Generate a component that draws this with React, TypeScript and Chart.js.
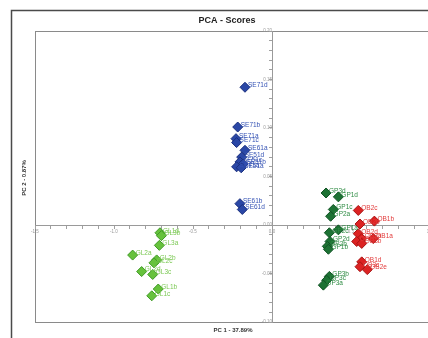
import React, { useEffect, useRef } from "react";
import { Chart, registerables } from "chart.js";

Chart.register(...registerables);

const chartTitle = "PCA - Scores";
const xAxisTitle = "PC 1 - 37.89%";
const yAxisTitle = "PC 2 - 0.87%";

// Series: SE (blue)
const seLabels = ["SE71d", "SE71b", "SE71a", "SE71c", "SE61a", "SE51d", "SE51c", "SE51b", "SE41a", "SE51a", "SE61b", "SE61d"];
const seX = [-0.171, -0.217, -0.228, -0.224, -0.171, -0.192, -0.203, -0.182, -0.224, -0.195, -0.203, -0.188];
const seY = [0.142, 0.101, 0.089, 0.085, 0.077, 0.070, 0.065, 0.063, 0.060, 0.059, 0.022, 0.016];

// Series: GP (dark green)
const gpLabels = ["GP3d", "GP1d", "GP1c", "GP2a", "GP1a", "GP2c", "GP2d", "GP2b", "GP1b", "GP3b", "GP3c", "GP3a"];
const gpX = [0.342, 0.42, 0.388, 0.371, 0.42, 0.363, 0.367, 0.35, 0.357, 0.363, 0.346, 0.325];
const gpY = [0.033, 0.029, 0.016, 0.009, -0.005, -0.008, -0.017, -0.022, -0.025, -0.053, -0.057, -0.062];

// Series: OB (red)
const obLabels = ["OB2c", "OB1b", "OB2b", "OB2d", "OB2a", "OB1a", "OB1c", "OB3b", "OB1d", "OB3c", "OB2e"];
const obX = [0.546, 0.648, 0.557, 0.546, 0.568, 0.641, 0.536, 0.568, 0.568, 0.557, 0.603];
const obY = [0.015, 0.004, 0.001, -0.009, -0.014, -0.014, -0.017, -0.019, -0.038, -0.043, -0.046];

// Series: GL (light green)
const glLabels = ["GL1d", "GL3b", "GL3a", "GL2a", "GL2b", "GL2c", "GL2d", "GL3c", "GL1b", "GL1c"];
const glX = [-0.709, -0.700, -0.713, -0.882, -0.730, -0.747, -0.825, -0.755, -0.72, -0.761];
const glY = [-0.008, -0.011, -0.021, -0.031, -0.036, -0.039, -0.048, -0.051, -0.066, -0.073];

const xMin = -1.5;
const xMax = 1.0;
const yMin = -0.1;
const yMax = 0.2;

const FONT = "'Liberation Sans', Arial, sans-serif";

function toPoints(xs: number[], ys: number[]) {
  return xs.map((x, i) => ({ x, y: ys[i] }));
}

const framePlugin = {
  id: "framePlugin",
  beforeDraw(chart: any) {
    const { ctx, chartArea, width, height } = chart;
    ctx.save();
    ctx.fillStyle = "#ffffff";
    ctx.fillRect(0, 0, width, height);
    // outer frame
    ctx.strokeStyle = "#4a4a4a";
    ctx.lineWidth = 1.5;
    ctx.beginPath();
    ctx.moveTo(11.5, height);
    ctx.lineTo(11.5, 10.5);
    ctx.lineTo(width, 10.5);
    ctx.stroke();
    // plot border
    ctx.strokeStyle = "#8a8a8a";
    ctx.lineWidth = 1;
    ctx.strokeRect(
      Math.round(chartArea.left) + 0.5,
      Math.round(chartArea.top) + 0.5,
      chartArea.right - chartArea.left,
      chartArea.bottom - chartArea.top
    );
    ctx.restore();
  },
  afterDatasetsDraw(chart: any) {
    const { ctx } = chart;
    ctx.save();
    ctx.font = `6.5px ${FONT}`;
    ctx.textBaseline = "middle";
    ctx.textAlign = "left";
    chart.data.datasets.forEach((ds: any, i: number) => {
      const meta = chart.getDatasetMeta(i);
      ctx.fillStyle = ds.labelColor;
      meta.data.forEach((el: any, j: number) => {
        ctx.fillText(ds.pointLabels[j], el.x + 3, el.y - 2);
      });
    });
    ctx.restore();
  },
  afterDraw(chart: any) {
    const { ctx } = chart;
    ctx.save();
    ctx.fillStyle = "#222";
    ctx.textAlign = "center";
    ctx.textBaseline = "middle";
    ctx.font = `bold 9px ${FONT}`;
    ctx.fillText(chartTitle, 227, 21);
    ctx.font = `bold 6px ${FONT}`;
    ctx.fillStyle = "#333";
    ctx.fillText(xAxisTitle, 233, 330);
    ctx.translate(24, 178);
    ctx.rotate(-Math.PI / 2);
    ctx.fillText(yAxisTitle, 0, 0);
    ctx.restore();
  },
};

export default function App() {
  const ref = useRef<HTMLCanvasElement | null>(null);

  useEffect(() => {
    if (!ref.current) return;
    const mk = (label: string, labels: string[], xs: number[], ys: number[], fill: string, border: string, labelColor: string) => ({
      label,
      data: toPoints(xs, ys),
      pointLabels: labels,
      labelColor,
      pointStyle: "rectRot",
      pointRadius: 5,
      pointBackgroundColor: fill,
      pointBorderColor: border,
      pointBorderWidth: 1,
      backgroundColor: fill,
      borderColor: border,
      showLine: false,
    });
    const chart = new Chart(ref.current, {
      type: "scatter",
      data: {
        datasets: [
          mk("SE", seLabels, seX, seY, "#2a47a6", "#1a2f7e", "#3452b4"),
          mk("GL", glLabels, glX, glY, "#66c23c", "#3f9a26", "#7cc955"),
          mk("GP", gpLabels, gpX, gpY, "#1d7234", "#0f5223", "#2f8c44"),
          mk("OB", obLabels, obX, obY, "#dc2222", "#a81414", "#e23a3a"),
        ] as any,
      },
      options: {
        animation: false,
        responsive: false,
        devicePixelRatio: 1,
        layout: { padding: { left: 35, top: 31, right: 10, bottom: 16 } },
        plugins: {
          legend: { display: false },
          tooltip: { enabled: false },
          title: { display: false },
        },
        scales: {
          x: {
            type: "linear",
            min: xMin,
            max: xMax,
            position: { y: 0 } as any,
            afterFit: (s: any) => {
              s.height = 0;
            },
            ticks: {
              stepSize: 0.1,
              autoSkip: false,
              maxRotation: 0,
              padding: 1,
              color: "#999999",
              font: { size: 4.5, family: FONT },
              callback: (v: any) => {
                const n = Number(v);
                return Math.abs(n * 2 - Math.round(n * 2)) < 1e-6 ? n.toFixed(1) : "";
              },
            },
            grid: { drawOnChartArea: false, drawTicks: true, tickLength: 3, color: "#a0a0a0" },
            border: { display: true, color: "#9a9a9a", width: 1 },
          },
          y: {
            type: "linear",
            min: yMin,
            max: yMax,
            position: { x: 0 } as any,
            afterFit: (s: any) => {
              s.width = 0;
            },
            ticks: {
              stepSize: 0.01,
              autoSkip: false,
              padding: 1,
              color: "#999999",
              font: { size: 4.5, family: FONT },
              callback: (v: any) => {
                const n = Number(v);
                return Math.abs(n * 20 - Math.round(n * 20)) < 1e-6 ? n.toFixed(2) : "";
              },
            },
            grid: { drawOnChartArea: false, drawTicks: true, tickLength: 3, color: "#a0a0a0" },
            border: { display: true, color: "#9a9a9a", width: 1 },
          },
        },
      },
      plugins: [framePlugin],
    } as any);
    return () => chart.destroy();
  }, []);

  return (
    <div style={{ position: "fixed", left: 0, top: 0, width: 428, height: 338, overflow: "hidden", background: "#fff" }}>
      <canvas ref={ref} width={440} height={338} style={{ width: 440, height: 338, display: "block" }} />
    </div>
  );
}
